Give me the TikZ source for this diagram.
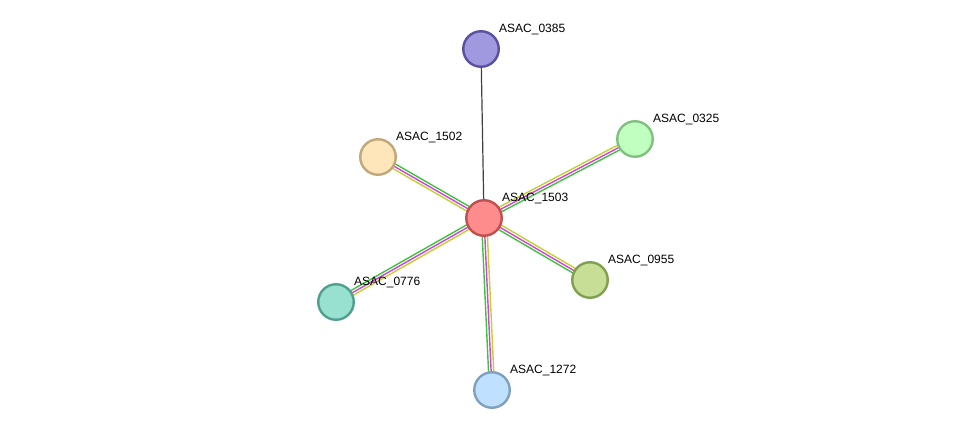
\documentclass[tikz,border=0pt]{standalone}
\usepackage{fontspec}
\setmainfont{Liberation Sans}
\usepackage{xcolor}
\usetikzlibrary{calc,backgrounds}

\definecolor{lnkgreen}{RGB}{60,196,60}
\definecolor{lnkmag}{RGB}{214,64,214}
\definecolor{lnkyel}{RGB}{192,210,48}

% three-coloured link between two proteins
\newcommand{\strlink}[2]{%
  \draw[lnk,lnkgreen] ($(#1)!2.6pt!-90:(#2)$) -- ($(#2)!2.6pt!90:(#1)$);
  \draw[lnk,lnkmag] (#1.center) -- (#2.center);
  \draw[lnk,lnkyel] ($(#1)!2.6pt!90:(#2)$) -- ($(#2)!2.6pt!-90:(#1)$);
}

\tikzset{
  prot/.style={circle,minimum size=35.5pt,inner sep=0pt,line width=2.4pt},
  lbl/.style={anchor=west,inner sep=0pt,font=\fontsize{12}{14}\selectfont},
  lnk/.style={line width=1.4pt}
}

\begin{document}
\begin{tikzpicture}[x=1pt,y=-1pt]
  \useasboundingbox (0,0) rectangle (975,435);

  \node[prot,fill={rgb,255:red,255;green,140;blue,140},draw={rgb,255:red,192;green,80;blue,80}] (c1503) at (484,218) {};
  \node[prot,fill={rgb,255:red,161;green,153;blue,224},draw={rgb,255:red,90;green,80;blue,160}] (p0385) at (481,49) {};
  \node[prot,fill={rgb,255:red,255;green,230;blue,186},draw={rgb,255:red,192;green,168;blue,120}] (p1502) at (378,157) {};
  \node[prot,fill={rgb,255:red,192;green,255;blue,192},draw={rgb,255:red,128;green,192;blue,128}] (p0325) at (635,139) {};
  \node[prot,fill={rgb,255:red,198;green,222;blue,150},draw={rgb,255:red,128;green,160;blue,80}] (p0955) at (590,280) {};
  \node[prot,fill={rgb,255:red,152;green,224;blue,208},draw={rgb,255:red,80;green,160;blue,144}] (p0776) at (336,302) {};
  \node[prot,fill={rgb,255:red,192;green,224;blue,255},draw={rgb,255:red,128;green,160;blue,192}] (p1272) at (492,390) {};

  \node[lbl] (l1503) at ($(c1503)+(18,-19.5)$) {ASAC\_1503};
  \node[lbl] (l0385) at ($(p0385)+(18,-19.5)$) {ASAC\_0385};
  \node[lbl] (l1502) at ($(p1502)+(18,-19.5)$) {ASAC\_1502};
  \node[lbl] (l0325) at ($(p0325)+(18,-19.5)$) {ASAC\_0325};
  \node[lbl] (l0955) at ($(p0955)+(18,-19.5)$) {ASAC\_0955};
  \node[lbl] (l0776) at ($(p0776)+(18,-19.5)$) {ASAC\_0776};
  \node[lbl] (l1272) at ($(p1272)+(18,-19.5)$) {ASAC\_1272};

  \begin{scope}[on background layer]
    \draw[line width=1.2pt,black!75] (c1503.center) -- (p0385.center);
    \strlink{c1503}{p1502}
    \strlink{c1503}{p0325}
    \strlink{c1503}{p0955}
    \strlink{c1503}{p0776}
    \strlink{c1503}{p1272}
  \end{scope}
\end{tikzpicture}
\end{document}
